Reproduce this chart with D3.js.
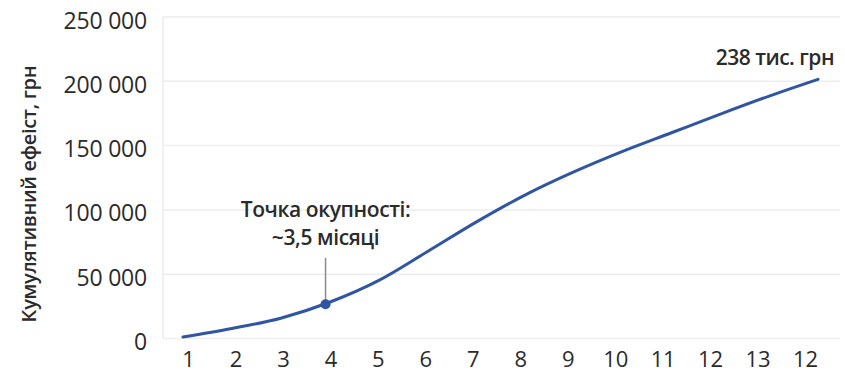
<!DOCTYPE html>
<html lang="uk">
<head>
<meta charset="utf-8">
<script src="https://cdn.jsdelivr.net/npm/d3@7"></script>
<style>
  html, body { margin: 0; padding: 0; background: #fff; }
  svg { display: block; }
  svg text { font-family: "Open Sans", "Noto Sans", sans-serif; }
</style>
</head>
<body>
<svg id="chart" width="845" height="374"></svg>
<script>
// Monthly cumulative effect, UAH
const months = [1, 2, 3, 4, 5, 6, 7, 8, 9, 10, 11, 12, 13, 14];
const cumulative = [1200, 7800, 15800, 28200, 45000, 67500, 90500, 111500, 129500, 145500, 160000, 174500, 188500, 201500];
const monthLabels = ["1", "2", "3", "4", "5", "6", "7", "8", "9", "10", "11", "12", "13", "12"];
const yTicks = [0, 50000, 100000, 150000, 200000, 250000];
const paybackMonth = 4;
const paybackText = ["Точка окупності:", "~3,5 місяці"];
const endLabel = "238 тис. грн";
const yTitle = "Кумулятивний ефеіст, грн";

const svg = d3.select("#chart");
const fontFamily = '"Open Sans", "Noto Sans", sans-serif';
const textColor = "#2b2b2b";
const lineColor = "#2f55a3";

const plot = { left: 163, right: 840, top: 17, bottom: 338.5 };

const y = d3.scaleLinear().domain([0, 250000]).range([plot.bottom, plot.top]);
const xLine = d3.scaleLinear().domain([1, 14]).range([183, 818]);
const xLabel = d3.scalePoint().domain(d3.range(monthLabels.length)).range([188, 805]);

// horizontal gridlines
svg.append("g")
  .selectAll("line")
  .data(yTicks)
  .join("line")
  .attr("x1", plot.left)
  .attr("x2", plot.right)
  .attr("y1", d => y(d))
  .attr("y2", d => y(d))
  .attr("stroke", "#ededed")
  .attr("stroke-width", 1.5);

// left frame line
svg.append("line")
  .attr("x1", plot.left).attr("x2", plot.left)
  .attr("y1", plot.top).attr("y2", plot.bottom)
  .attr("stroke", "#ededed").attr("stroke-width", 1.5);

// y axis labels
const yAxis = d3.axisLeft(y)
  .tickValues(yTicks)
  .tickSize(0)
  .tickPadding(0)
  .tickFormat(d => d3.format(",")(d).replace(/,/g, " "));
const gy = svg.append("g").attr("transform", "translate(147,3)").call(yAxis)
  .attr("font-family", fontFamily);
gy.select(".domain").remove();
gy.selectAll("text")
  .attr("fill", textColor)
  .attr("font-size", 23)
  .attr("letter-spacing", -0.2)
  .attr("dy", "0.35em");

// x axis labels
const xAxis = d3.axisBottom(xLabel)
  .tickSize(0)
  .tickPadding(0)
  .tickFormat(i => monthLabels[i]);
const gx = svg.append("g").attr("transform", "translate(0,351)").call(xAxis)
  .attr("font-family", fontFamily);
gx.select(".domain").remove();
gx.selectAll("text")
  .attr("fill", textColor)
  .attr("font-size", 22)
  .attr("letter-spacing", -0.1)
  .attr("dy", "0.71em");

// y axis title
svg.append("text")
  .attr("transform", "translate(36,194) rotate(-90)")
  .attr("text-anchor", "middle")
  .attr("fill", textColor)
  .attr("font-size", 20)
  .attr("font-weight", 600)
  .attr("letter-spacing", -0.3)
  .text(yTitle);

// cumulative line
const line = d3.line()
  .x((d, i) => xLine(months[i]))
  .y(d => y(d))
  .curve(d3.curveMonotoneX);
svg.append("path")
  .datum(cumulative)
  .attr("d", line)
  .attr("fill", "none")
  .attr("stroke", lineColor)
  .attr("stroke-width", 3)
  .attr("stroke-linecap", "round");

// payback marker and leader
const pi = months.indexOf(paybackMonth);
const px = xLine(paybackMonth) - 4;
const py = y(cumulative[pi]) + 2;
svg.append("line")
  .attr("x1", px).attr("x2", px)
  .attr("y1", 258).attr("y2", py)
  .attr("stroke", "#8a8a8a").attr("stroke-width", 1.5);
svg.append("circle")
  .attr("cx", px).attr("cy", py).attr("r", 5)
  .attr("fill", lineColor);

svg.append("g")
  .selectAll("text")
  .data(paybackText)
  .join("text")
  .attr("x", px)
  .attr("y", (d, i) => 217 + i * 28)
  .attr("text-anchor", "middle")
  .attr("fill", textColor)
  .attr("font-size", 21)
  .attr("font-weight", 600)
  .attr("letter-spacing", -0.4)
  .text(d => d);

// end-of-line label
svg.append("text")
  .attr("x", 834)
  .attr("y", 65)
  .attr("text-anchor", "end")
  .attr("fill", textColor)
  .attr("font-size", 21)
  .attr("font-weight", 600)
  .attr("letter-spacing", -0.5)
  .text(endLabel);
</script>
</body>
</html>
